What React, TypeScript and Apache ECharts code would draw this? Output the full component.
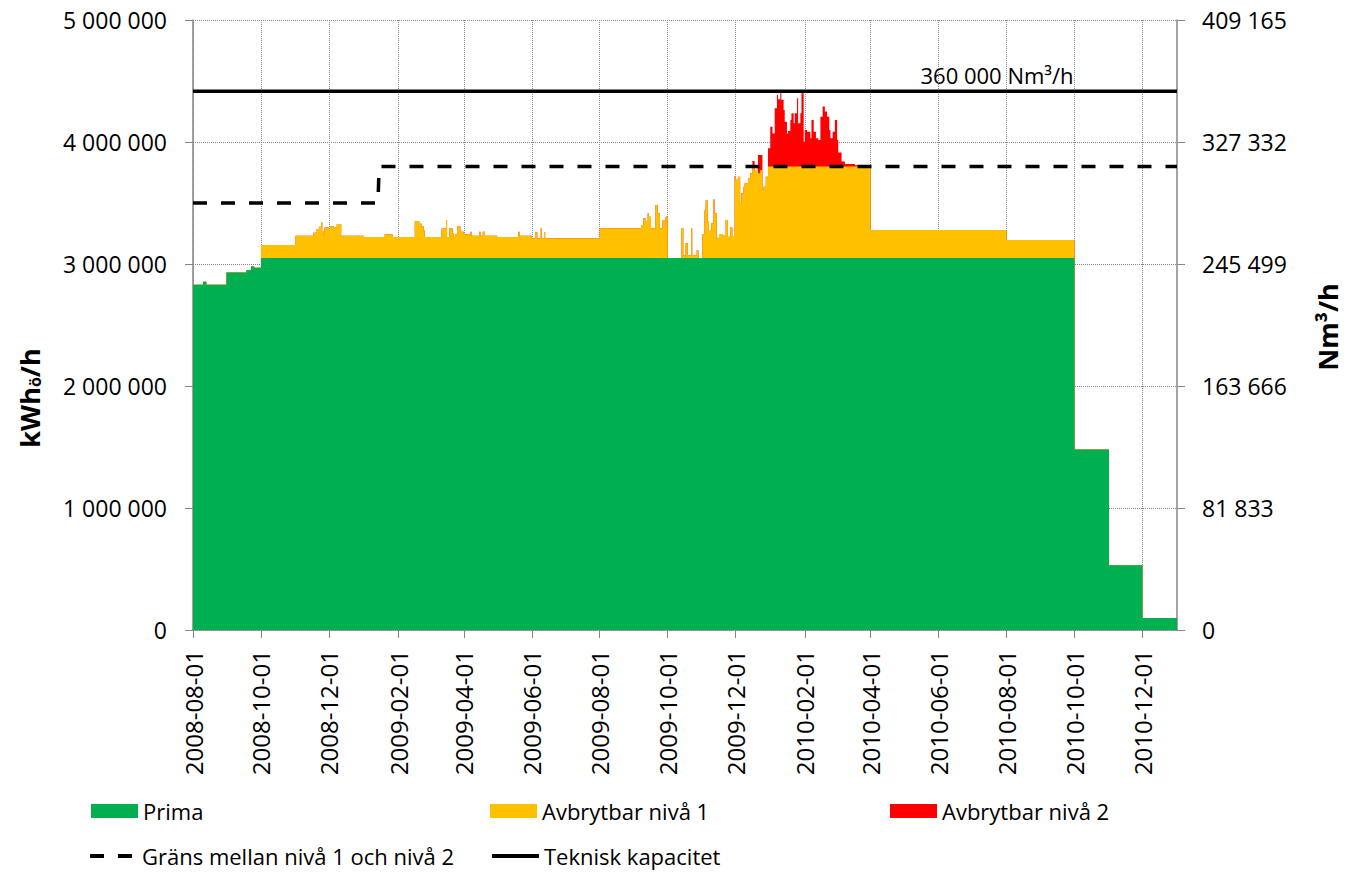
import React, { useEffect, useRef } from 'react';
import * as echarts from 'echarts';

// ---------- DATA ----------
const tickDates = [
  '2008-08-01', '2008-10-01', '2008-12-01', '2009-02-01', '2009-04-01', '2009-06-01',
  '2009-08-01', '2009-10-01', '2009-12-01', '2010-02-01', '2010-04-01', '2010-06-01',
  '2010-08-01', '2010-10-01', '2010-12-01',
];
const xStart = '2008-08-01';
const xEnd = '2011-01-01';

// Prima (kWh/h), step values held from date until next date
const prima: [string, number][] = [
  ['2008-08-01', 2830000], ['2008-08-10', 2855000], ['2008-08-13', 2830000],
  ['2008-08-31', 2930000], ['2008-09-18', 2950000], ['2008-09-22', 2980000],
  ['2008-09-25', 2970000], ['2008-10-01', 3050000], ['2010-10-01', 1480000],
  ['2010-11-01', 530000], ['2010-12-01', 98000], ['2011-01-01', 98000],
];

// Avbrytbar nivå 1 (amount above Prima)
const niva1: [string, number][] = [
  ['2008-08-01', 0], ['2008-10-01', 105000], ['2008-11-01', 182000],
  ['2008-11-17', 207000], ['2008-11-20', 237000], ['2008-11-22', 256000],
  ['2008-11-24', 292000], ['2008-11-25', 220000], ['2008-11-26', 182000],
  ['2008-11-27', 250000], ['2008-12-01', 237000], ['2008-12-02', 260000],
  ['2008-12-05', 250000], ['2008-12-08', 277000], ['2008-12-12', 182000],
  ['2009-01-01', 171000], ['2009-01-20', 193000], ['2009-01-27', 171000],
  ['2009-02-16', 302000], ['2009-02-20', 280000], ['2009-02-22', 257000],
  ['2009-02-24', 225000], ['2009-02-25', 171000], ['2009-03-12', 240000],
  ['2009-03-16', 310000], ['2009-03-17', 171000], ['2009-03-19', 240000],
  ['2009-03-22', 200000], ['2009-03-23', 171000], ['2009-03-24', 193000],
  ['2009-03-26', 260000], ['2009-03-29', 215000], ['2009-04-01', 193000],
  ['2009-04-07', 215000], ['2009-04-08', 182000], ['2009-04-15', 215000],
  ['2009-04-16', 182000], ['2009-04-18', 215000], ['2009-04-20', 182000],
  ['2009-05-01', 171000], ['2009-05-20', 215000], ['2009-05-21', 182000],
  ['2009-06-01', 161000], ['2009-06-04', 210000], ['2009-06-06', 161000],
  ['2009-06-09', 243000], ['2009-06-10', 161000], ['2009-06-12', 210000],
  ['2009-06-13', 161000], ['2009-08-01', 243000], ['2009-09-07', 270000],
  ['2009-09-09', 325000], ['2009-09-11', 297000], ['2009-09-13', 365000],
  ['2009-09-14', 338000], ['2009-09-16', 243000], ['2009-09-20', 434000],
  ['2009-09-22', 365000], ['2009-09-24', 243000], ['2009-09-26', 310000],
  ['2009-09-28', 260000], ['2009-09-29', 338000], ['2009-10-01', 0],
  ['2009-10-13', 240000], ['2009-10-15', 20000], ['2009-10-17', 120000],
  ['2009-10-19', 20000], ['2009-10-22', 240000], ['2009-10-23', 20000],
  ['2009-10-27', 60000], ['2009-10-29', 0], ['2009-11-01', 196000],
  ['2009-11-03', 390000], ['2009-11-04', 470000], ['2009-11-06', 297000],
  ['2009-11-07', 223000], ['2009-11-09', 283000], ['2009-11-11', 480000],
  ['2009-11-12', 365000], ['2009-11-14', 160000], ['2009-11-16', 196000],
  ['2009-11-19', 188000], ['2009-11-22', 310000], ['2009-11-24', 174000],
  ['2009-11-26', 250000], ['2009-11-28', 180000], ['2009-11-30', 670000],
  ['2009-12-01', 640000], ['2009-12-03', 666000], ['2009-12-05', 450000],
  ['2009-12-06', 530000], ['2009-12-08', 584000], ['2009-12-09', 610000],
  ['2009-12-12', 650000], ['2009-12-14', 693000], ['2009-12-16', 734000],
  ['2009-12-18', 715000], ['2009-12-20', 734000], ['2009-12-21', 693000],
  ['2009-12-23', 720000], ['2009-12-25', 560000], ['2009-12-26', 584000],
  ['2009-12-28', 666000], ['2009-12-30', 750000], ['2010-04-01', 229000],
  ['2010-08-01', 147000], ['2010-10-01', 0], ['2011-01-01', 0],
];

// Avbrytbar nivå 2 (amount above nivå 1)
const niva2: [string, number][] = [
  ['2008-08-01', 0], ['2009-12-16', 60000], ['2009-12-18', 0],
  ['2009-12-21', 150000], ['2009-12-23', 123000], ['2009-12-25', 0],
  ['2009-12-30', 148000], ['2010-01-01', 325000], ['2010-01-03', 270000],
  ['2010-01-05', 476000], ['2010-01-07', 585000], ['2010-01-08', 550000],
  ['2010-01-10', 599000], ['2010-01-11', 544000], ['2010-01-13', 462000],
  ['2010-01-14', 366000], ['2010-01-16', 270000], ['2010-01-17', 290000],
  ['2010-01-19', 380000], ['2010-01-20', 435000], ['2010-01-22', 353000],
  ['2010-01-23', 435000], ['2010-01-25', 558000], ['2010-01-26', 353000],
  ['2010-01-28', 435000], ['2010-01-29', 599000], ['2010-01-31', 203000],
  ['2010-02-01', 298000], ['2010-02-03', 285000], ['2010-02-06', 230000],
  ['2010-02-07', 380000], ['2010-02-09', 285000], ['2010-02-11', 230000],
  ['2010-02-13', 216000], ['2010-02-15', 407000], ['2010-02-17', 490000],
  ['2010-02-19', 449000], ['2010-02-21', 407000], ['2010-02-23', 298000],
  ['2010-02-24', 230000], ['2010-02-26', 285000], ['2010-02-28', 380000],
  ['2010-03-02', 216000], ['2010-03-03', 113000], ['2010-03-06', 40000],
  ['2010-03-09', 20000], ['2010-03-18', 10000], ['2010-04-01', 0],
  ['2011-01-01', 0],
];

const grans: [string, number][] = [
  ['2008-08-01', 3500000], ['2009-01-14', 3500000], ['2009-01-15', 3800000], ['2011-01-01', 3800000],
];
const teknisk: [string, number][] = [
  ['2008-08-01', 4415000], ['2011-01-01', 4415000],
];

const leftMax = 5000000;
const leftInterval = 1000000;
const rightMax = 409165;
const rightInterval = 81833;

// ---------- HELPERS ----------
const GREEN = '#00B050';
const YELLOW = '#FFC000';
const RED = '#FF0000';
const AXIS = '#868686';
const FONT = "'Open Sans', sans-serif";

function ts(s: string): number {
  const [y, m, d] = s.split('-').map(Number);
  return new Date(y, m - 1, d).getTime();
}
function pad(n: number) { return n < 10 ? '0' + n : String(n); }
function fmtDate(v: number): string {
  const d = new Date(v);
  return d.getFullYear() + '-' + pad(d.getMonth() + 1) + '-' + pad(d.getDate());
}
function fmtNum(v: number): string {
  return String(Math.round(v)).replace(/\B(?=(\d{3})+(?!\d))/g, ' ');
}
function stepAt(pts: [string, number][], t: number): number {
  let v = 0;
  for (const [d, val] of pts) {
    if (ts(d) <= t) v = val; else break;
  }
  return v;
}

export default function App() {
  const ref = useRef<HTMLDivElement>(null);
  useEffect(() => {
    document.body.style.margin = '0';
    if (!ref.current) return;
    const chart = echarts.init(ref.current, undefined, { renderer: 'svg' });

    const dates = Array.from(new Set([...prima, ...niva1, ...niva2].map((p) => p[0]))).sort();
    const greenTop: [number, number][] = [];
    const yellowTop: [number, number][] = [];
    const redTop: [number, number][] = [];
    dates.forEach((d) => {
      const t = ts(d);
      const g = stepAt(prima, t);
      const y = g + stepAt(niva1, t);
      const r = y + stepAt(niva2, t);
      greenTop.push([t, g]);
      yellowTop.push([t, y]);
      redTop.push([t, r]);
    });
    const tickTs = tickDates.map(ts);

    const areaSeries = (name: string, color: string, data: [number, number][]) => ({
      name,
      type: 'line',
      step: 'end',
      data,
      symbol: 'none',
      color,
      itemStyle: { color },
      lineStyle: { width: 0, color },
      areaStyle: { color, opacity: 1 },
      silent: true,
    });

    const legendBase = {
      itemWidth: 47,
      itemHeight: 14,
      textStyle: { fontSize: 22, fontFamily: FONT, color: '#000' },
      selectedMode: false,
      padding: 0,
    };

    const option: any = {
      animation: false,
      backgroundColor: '#fff',
      grid: { left: 193, right: 177, top: 20, bottom: 246, containLabel: false },
      legend: [
        { ...legendBase, data: [{ name: 'Prima', icon: 'rect' }], left: 91, top: 800 },
        { ...legendBase, data: [{ name: 'Avbrytbar nivå 1', icon: 'rect' }], left: 490, top: 800 },
        { ...legendBase, data: [{ name: 'Avbrytbar nivå 2', icon: 'rect' }], left: 890, top: 800 },
        {
          ...legendBase,
          data: ['Gräns mellan nivå 1 och nivå 2'],
          left: 88,
          top: 845,
          itemStyle: { opacity: 0, borderWidth: 0 },
          lineStyle: { width: 4, type: [14, 14], color: '#000' },
        },
        {
          ...legendBase,
          data: ['Teknisk kapacitet'],
          left: 490,
          top: 845,
          itemStyle: { opacity: 0, borderWidth: 0 },
          lineStyle: { width: 4, color: '#000' },
        },
      ],
      xAxis: {
        type: 'value',
        min: ts(xStart),
        max: ts(xEnd),
        scale: true,
        axisLine: { show: true, lineStyle: { color: AXIS, width: 1.5 } },
        axisTick: { show: true, length: 8, inside: false, customValues: tickTs, lineStyle: { color: AXIS } },
        axisLabel: {
          customValues: tickTs,
          rotate: 90,
          margin: 20,
          fontSize: 24,
          fontFamily: FONT,
          color: '#000',
          formatter: (v: number) => fmtDate(v),
          hideOverlap: false,
        },
        splitLine: { show: true, lineStyle: { type: 'dotted', color: AXIS, width: 1 } },
      },
      yAxis: [
        {
          type: 'value',
          position: 'left',
          min: 0,
          max: leftMax,
          interval: leftInterval,
          axisLine: { show: true, lineStyle: { color: AXIS, width: 1.5 } },
          axisTick: { show: true, length: 8, lineStyle: { color: AXIS } },
          axisLabel: { fontSize: 23, fontFamily: FONT, color: '#000', margin: 26, formatter: (v: number) => fmtNum(v) },
          splitLine: { show: true, lineStyle: { type: 'dotted', color: AXIS, width: 1 } },
        },
        {
          type: 'value',
          position: 'right',
          min: 0,
          max: rightMax,
          interval: rightInterval,
          axisLine: { show: true, lineStyle: { color: AXIS, width: 1.5 } },
          axisTick: { show: true, length: 8, lineStyle: { color: AXIS } },
          axisLabel: { fontSize: 23, fontFamily: FONT, color: '#000', margin: 25, formatter: (v: number) => fmtNum(v) },
          splitLine: { show: false },
        },
      ],
      series: [
        areaSeries('Avbrytbar nivå 2', RED, redTop),
        areaSeries('Avbrytbar nivå 1', YELLOW, yellowTop),
        areaSeries('Prima', GREEN, greenTop),
        {
          name: 'Gräns mellan nivå 1 och nivå 2',
          type: 'line',
          data: grans.map(([d, v]) => [ts(d), v]),
          symbol: 'none',
          color: '#000',
          itemStyle: { color: '#000', opacity: 0 },
          lineStyle: { color: '#000', width: 3.5, type: [14, 14] },
          silent: true,
          z: 5,
        },
        {
          name: 'Teknisk kapacitet',
          type: 'line',
          data: teknisk.map(([d, v]) => [ts(d), v]),
          symbol: 'none',
          color: '#000',
          itemStyle: { color: '#000', opacity: 0 },
          lineStyle: { color: '#000', width: 3.5 },
          silent: true,
          z: 5,
        },
      ],
      graphic: [
        {
          type: 'text',
          x: 28,
          y: 398,
          rotation: Math.PI / 2,
          style: {
            text: '{a|kWh}{b|ö}{a|/h}',
            align: 'center',
            verticalAlign: 'middle',
            fill: '#000',
            rich: {
              a: { fontSize: 27, fontWeight: 'bold', fontFamily: FONT, fill: '#000', lineHeight: 30, verticalAlign: 'bottom' },
              b: { fontSize: 16, fontWeight: 'bold', fontFamily: FONT, fill: '#000', lineHeight: 6, verticalAlign: 'bottom' },
            },
          },
        },
        {
          type: 'text',
          x: 1327,
          y: 327,
          rotation: Math.PI / 2,
          style: {
            text: 'Nm³/h',
            align: 'center',
            verticalAlign: 'middle',
            fill: '#000',
            font: `bold 27px ${FONT}`,
          },
        },
        {
          type: 'text',
          x: 997,
          y: 75,
          style: {
            text: '360 000 Nm³/h',
            align: 'center',
            verticalAlign: 'middle',
            fill: '#000',
            font: `22px ${FONT}`,
          },
        },
      ],
    };

    chart.setOption(option);
    return () => chart.dispose();
  }, []);

  return <div ref={ref} style={{ width: 1354, height: 876 }} />;
}
